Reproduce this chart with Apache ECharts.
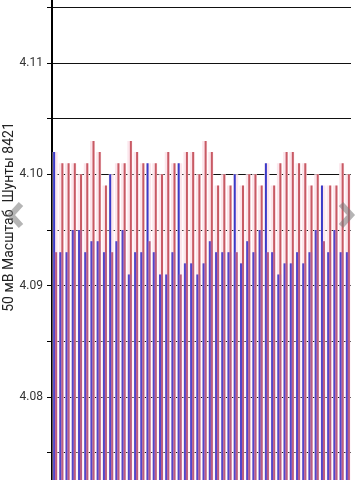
<!DOCTYPE html>
<html><head><meta charset="utf-8">
<script src="https://cdn.jsdelivr.net/npm/echarts@6/dist/echarts.min.js"></script>
<style>html,body{margin:0;padding:0;background:#fff}#c{width:359px;height:480px}</style>
</head><body><div id="c"></div>
<script>
// 48 consecutive readings, two channels
const categories = Array.from({length:48},(_, i)=>String(i+1));
const redValues = [4.093,4.101,4.101,4.101,4.100,4.101,4.103,4.102,4.099,4.093,
  4.101,4.101,4.103,4.102,4.101,4.094,4.101,4.100,4.102,4.101,
  4.091,4.102,4.102,4.100,4.103,4.102,4.099,4.100,4.099,4.093,
  4.099,4.100,4.100,4.099,4.093,4.099,4.101,4.102,4.102,4.101,
  4.101,4.099,4.100,4.094,4.099,4.099,4.101,4.100];
const blueValues = [4.102,4.093,4.093,4.095,4.095,4.093,4.094,4.094,4.093,4.100,
  4.094,4.095,4.091,4.093,4.093,4.101,4.093,4.091,4.091,4.093,
  4.101,4.092,4.092,4.091,4.092,4.094,4.093,4.093,4.093,4.100,
  4.092,4.094,4.093,4.095,4.101,4.093,4.091,4.092,4.092,4.093,
  4.092,4.093,4.095,4.099,4.093,4.095,4.093,4.093];
const yTicks = [4.08,4.09,4.10,4.11];
const axisName = '50 мВ Масштаб  Шунты 8421';

const topVals = redValues.map((v,i)=>Math.max(v,blueValues[i]));
const lowVals = redValues.map((v,i)=>Math.min(v,blueValues[i]));

const chart = echarts.init(document.getElementById('c'));
const xa = ()=>({type:'category',data:categories,show:false,boundaryGap:true});
chart.setOption({
  animation:false,
  grid:{left:52,right:8,top:-48.3,bottom:-28.3,containLabel:false,outerBoundsMode:'none'},
  xAxis:[xa(),xa(),xa()],
  yAxis:{type:'value',min:4.07,max:4.12,interval:0.005,
    name:axisName,nameLocation:'middle',nameGap:36,nameRotate:90,nameMoveOverlap:false,
    nameTextStyle:{color:'#222',fontSize:14,fontFamily:'Roboto',padding:[0,0,0,26]},
    axisLine:{show:true,lineStyle:{color:'#000',width:2}},
    axisTick:{show:true,length:5,lineStyle:{color:'#000',width:1}},
    axisLabel:{margin:9,color:'#333',fontSize:12,fontFamily:'Roboto',
      formatter:(v)=>{return yTicks.some(t=>Math.abs(t-v)<1e-6)?v.toFixed(2):'';}},
    splitLine:{show:true,lineStyle:{color:'#111',width:1}}},
  series:[
    {type:'bar',xAxisIndex:0,data:topVals,barWidth:5,itemStyle:{color:'#fce6ec'},silent:true},
    {type:'bar',xAxisIndex:1,data:blueValues,barWidth:2,barGap:'0%',itemStyle:{color:'#3a3ac8'}},
    {type:'bar',xAxisIndex:1,data:redValues,barWidth:2,barGap:'0%',itemStyle:{color:'#c85a64'}},
    {type:'bar',xAxisIndex:2,data:lowVals,barWidth:4,itemStyle:{color:'rgba(150,100,210,0.28)'}}
  ],
  graphic:[
    {type:'polyline',z:100,shape:{points:[[21,204],[11,215],[21,226]]},style:{stroke:'rgba(120,120,120,0.55)',lineWidth:6,fill:null}},
    {type:'polyline',z:100,shape:{points:[[341,204],[351,215],[341,226]]},style:{stroke:'rgba(120,120,120,0.55)',lineWidth:6,fill:null}}
  ]
});
</script></body></html>
